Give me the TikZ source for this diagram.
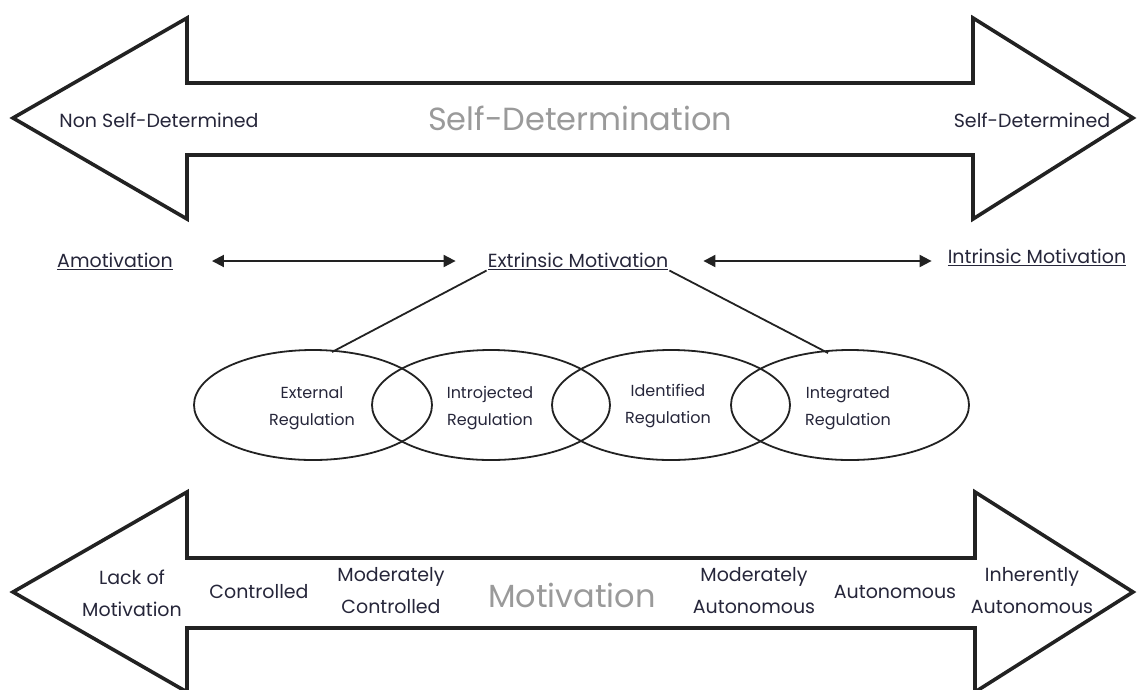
\documentclass[tikz,border=0pt]{standalone}
\usepackage{fontspec}
\setmainfont{Poppins}
\usetikzlibrary{shapes.geometric,arrows.meta}
\definecolor{ink}{HTML}{222222}
\definecolor{txt}{HTML}{26263A}
\definecolor{ttlgray}{HTML}{9A9A9A}
\begin{document}
\begin{tikzpicture}[x=1pt,y=-1pt,
 bigarrow/.style={draw=ink, line width=3.6pt, line join=miter, fill=white},
 lbl/.style={font=\fontsize{19}{32}\selectfont, text=txt, inner sep=1pt, align=center},
 ttl/.style={font=\fontsize{32}{34}\selectfont, text=ttlgray, inner sep=0pt},
 reg/.style={ellipse, draw=ink, line width=1.8pt, minimum width=238pt, minimum height=110pt, inner sep=0pt},
 regtxt/.style={font=\fontsize{16}{27}\selectfont, text=txt, align=center},
 link/.style={draw=ink, line width=1.8pt},
 dbl/.style={draw=ink, line width=2pt, {Triangle[length=12pt,width=12pt]}-{Triangle[length=12pt,width=12pt]}}
]
\useasboundingbox (0,0) rectangle (1137,689);
% top arrow
\draw[bigarrow] (13,118) -- (187,18) -- (187,83) -- (973,83) -- (973,18) -- (1133,118)
  -- (973,219) -- (973,155) -- (187,155) -- (187,219) -- cycle;
\node[ttl] (sd) at (580,118) {Self-Determination};
\node[lbl] (nsd) at (159,120) {Non Self-Determined};
\node[lbl] (sdd) at (1032,120) {Self-Determined};
% middle row
\node[lbl] (amot) at (115,261) {\underline{Amotivation}};
\node[lbl] (extr) at (578,261) {\underline{Extrinsic Motivation}};
\node[lbl] (intr) at (1037,257) {\underline{Intrinsic Motivation}};
\draw[dbl, shorten <=38pt, shorten >=31pt] (amot.east) -- (extr.west);
\draw[dbl, shorten <=34pt, shorten >=15pt] (extr.east) -- (intr.west |- extr.east);
% ellipses
\node[reg] (e1) at (313,405) {};
\node[reg] (e2) at (491,405) {};
\node[reg] (e3) at (671,405) {};
\node[reg] (e4) at (850,405) {};
\node[regtxt] (t1) at (312,408) {External\\Regulation};
\node[regtxt] (t2) at (490,408) {Introjected\\Regulation};
\node[regtxt] (t3) at (668,406) {Identified\\Regulation};
\node[regtxt] (t4) at (848,408) {Integrated\\Regulation};
\coordinate (l1) at (332,352);
\coordinate (l2) at (828,353);
\draw[link] (extr.south west) -- (l1);
\draw[link] (extr.south east) -- (l2);
% bottom arrow
\draw[bigarrow] (13,592) -- (187,492) -- (187,558) -- (975,558) -- (975,492) -- (1133,592)
  -- (975,692) -- (975,628) -- (187,628) -- (187,692) -- cycle;
\node[ttl] (mot) at (572,595) {Motivation};
\node[lbl] (b1) at (132,593) {Lack of\\Motivation};
\node[lbl] (b2) at (259,592) {Controlled};
\node[lbl] (b3) at (391,591) {Moderately\\Controlled};
\node[lbl] (b4) at (754,591) {Moderately\\Autonomous};
\node[lbl] (b5) at (895,592) {Autonomous};
\node[lbl] (b6) at (1032,591) {Inherently\\Autonomous};
\end{tikzpicture}
\end{document}
